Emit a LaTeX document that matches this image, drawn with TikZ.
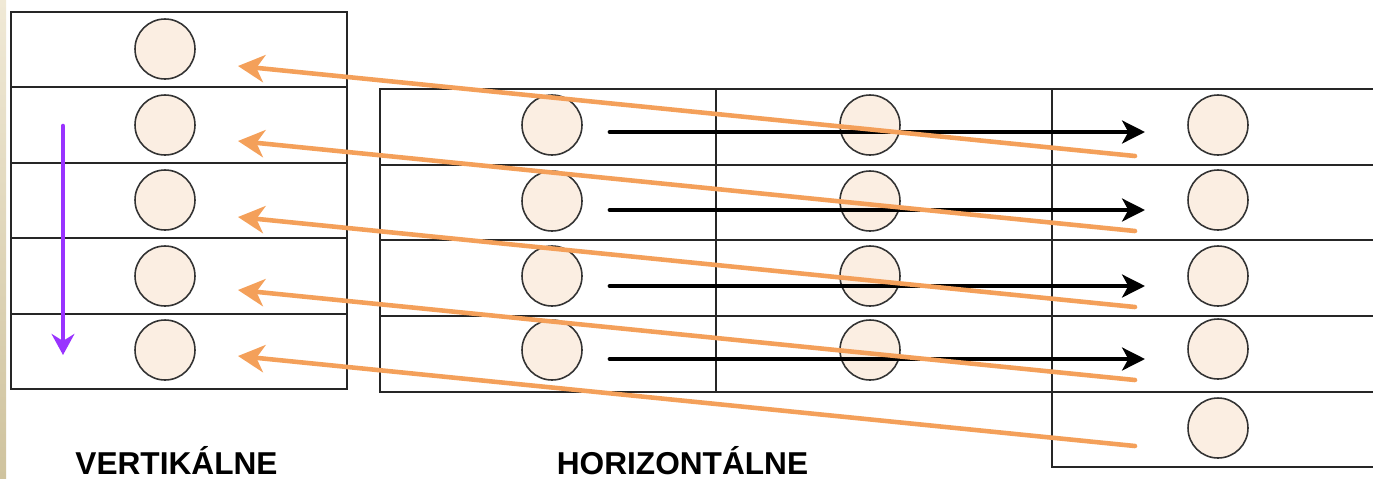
\documentclass[tikz,border=0pt]{standalone}
\usepackage{fontspec}
\setmainfont{Liberation Sans}
\usetikzlibrary{arrows.meta}
\definecolor{peach}{HTML}{FBEEE2}
\definecolor{orangeln}{HTML}{F4A05A}
\definecolor{violetln}{HTML}{9933FF}
\definecolor{stripTop}{HTML}{F0E9D6}
\definecolor{stripBot}{HTML}{CFC39E}
\tikzset{
  grid/.style={line width=1.6pt, black!85, line cap=rect},
  ball/.style={circle, draw=black!80, fill=peach, minimum size=1.2cm, inner sep=0pt, line width=0.9pt},
  moveh/.style={line width=2.7pt, black, line cap=round, -{Stealth[length=13pt, width=13pt, inset=3.5pt]}},
  movev/.style={line width=2.6pt, orangeln, line cap=round, -{Stealth[length=15pt, width=15.5pt, inset=4.5pt]}},
  movedown/.style={line width=2.6pt, violetln, line cap=round, -{Stealth[length=12pt, width=13pt, inset=4pt]}},
  caption/.style={font=\bfseries\fontsize{18}{20}\selectfont, anchor=base, inner sep=0pt}
}
\begin{document}
\begin{tikzpicture}[x=0.02cm, y=-0.02cm]
  \clip (0,0) rectangle (1373,478);
  \fill[white] (0,0) rectangle (1373,478);
  \shade[top color=stripTop, bottom color=stripBot] (0,0) rectangle (6,478);

  % vertical layout table
  \draw[grid] (11,12) rectangle (347,389);
  \foreach \y in {87,163,238,314} \draw[grid] (11,\y) -- (347,\y);

  % horizontal layout table
  \draw[grid] (1400,89) -- (380,89) -- (380,392) -- (1400,392);
  \foreach \y in {165,240,316} \draw[grid] (380,\y) -- (1400,\y);
  \draw[grid] (716,89) -- (716,392);
  \draw[grid] (1052,89) -- (1052,467) -- (1400,467);

  % items
  \foreach \i/\y in {1/49,2/125,3/200,4/276,5/350}
    \node[ball] (v\i) at (165,\y) {};
  \foreach \i/\y in {1/125,2/201,3/276,4/350} {
    \node[ball] (a\i) at (552,\y) {};
    \node[ball] (b\i) at (870,\y) {};
  }
  \foreach \i/\y in {1/125,2/200,3/276,4/349,5/428}
    \node[ball] (c\i) at (1218,\y) {};

  % horizontal moves
  \foreach \i/\y in {1/132,2/210,3/286,4/359} {
    \coordinate (hs\i) at (610,\y);
    \coordinate (he\i) at (1145,\y);
    \draw[moveh] (hs\i) -- (he\i);
  }

  % vertical direction
  \coordinate (ds) at (63,126);
  \coordinate (de) at (63,355);
  \draw[movedown] (ds) -- (de);

  % wrapped moves back to the vertical table
  \foreach \i/\ya/\yb in {1/156/66,2/231/141,3/307/217,4/380/290,5/446/356} {
    \coordinate (os\i) at (1135,\ya);
    \coordinate (oe\i) at (238,\yb);
    \draw[movev] (os\i) -- (oe\i);
  }

  % captions
  \node[caption] (capv) at (176.5,474) {VERTIKÁLNE};
  \node[caption] (caph) at (682.5,474) {HORIZONTÁLNE};
\end{tikzpicture}
\end{document}
